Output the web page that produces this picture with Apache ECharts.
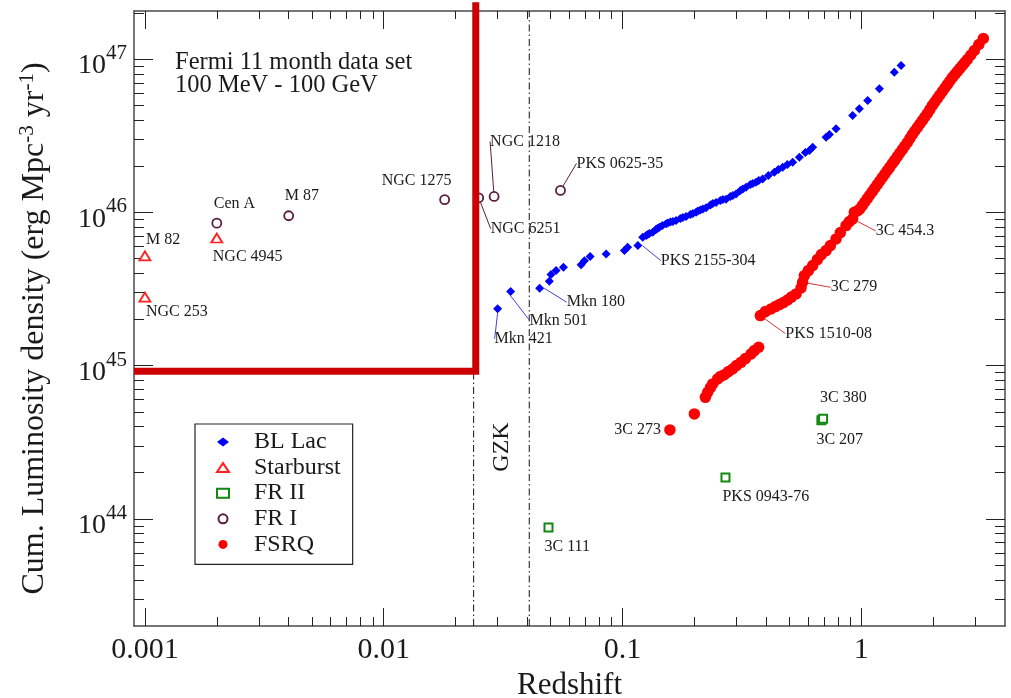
<!DOCTYPE html>
<html>
<head>
<meta charset="utf-8">
<script src="https://cdn.jsdelivr.net/npm/echarts@6/dist/echarts.min.js"></script>
<style>
  html, body { margin: 0; padding: 0; background: #fff; }
  #chart { width: 1011px; height: 698px; }
</style>
</head>
<body>
<div id="chart"></div>
<script>
// ---- Axis ranges and tick values ----
const xMin = 0.0009, xMax = 4;
const yMin = 2e43, yMax = 2.06e47;
const xMajorTicks = [0.001, 0.01, 0.1, 1];
const xMinorTicks = [0.002, 0.003, 0.004, 0.005, 0.006, 0.007, 0.008, 0.009,
  0.02, 0.03, 0.04, 0.05, 0.06, 0.07, 0.08, 0.09,
  0.2, 0.3, 0.4, 0.5, 0.6, 0.7, 0.8, 0.9, 2, 3];
const xTickLabels = ['0.001', '0.01', '0.1', '1'];
const yMajorTicks = [1e44, 1e45, 1e46, 1e47];
const yMinorTicks = [3e43, 4e43, 5e43, 6e43, 7e43, 8e43, 9e43,
  2e44, 3e44, 4e44, 5e44, 6e44, 7e44, 8e44, 9e44,
  2e45, 3e45, 4e45, 5e45, 6e45, 7e45, 8e45, 9e45,
  2e46, 3e46, 4e46, 5e46, 6e46, 7e46, 8e46, 9e46, 2e47];

// ---- BL Lac (cumulative, ordered by redshift) ----
const blLacZ = [0.030, 0.034, 0.045, 0.0494, 0.0502, 0.0527, 0.0566, 0.0671, 0.0693, 0.0732,
  0.0854, 0.1019, 0.1051, 0.116, 0.1215, 0.1256, 0.1275, 0.1296, 0.1339, 0.1380,
  0.1400, 0.1428, 0.1469, 0.1523, 0.1549, 0.1587, 0.1626, 0.1677, 0.1748, 0.1790,
  0.1846, 0.1925, 0.1971, 0.2033, 0.2069, 0.2120, 0.2171, 0.2239, 0.2335, 0.2390,
  0.2466, 0.2570, 0.2633, 0.2716, 0.2830, 0.2900, 0.2991, 0.3117, 0.3193, 0.3294,
  0.3433, 0.3517, 0.3627, 0.3725, 0.3864, 0.4083, 0.4325, 0.4496, 0.4688, 0.4904,
  0.5162, 0.5508, 0.5833, 0.6065, 0.6261, 0.7124, 0.7353, 0.7845, 0.9204, 0.9817,
  1.064, 1.191, 1.376, 1.468];
const blLacLum = [2.35e45, 3.05e45, 3.20e45, 3.55e45, 3.93e45, 4.17e45, 4.38e45, 4.56e45, 4.84e45, 5.16e45,
  5.35e45, 5.64e45, 5.92e45, 6.07e45, 6.87e45, 7.06e45, 7.16e45, 7.27e45, 7.42e45, 7.72e45,
  7.84e45, 8.00e45, 8.20e45, 8.42e45, 8.51e45, 8.64e45, 8.71e45, 8.84e45, 9.11e45, 9.25e45,
  9.39e45, 9.67e45, 9.82e45, 1.00e46, 1.020e46, 1.035e46, 1.051e46, 1.07e46, 1.116e46, 1.141e46,
  1.16e46, 1.194e46, 1.212e46, 1.22e46, 1.268e46, 1.287e46, 1.32e46, 1.388e46, 1.420e46, 1.46e46,
  1.519e46, 1.542e46, 1.57e46, 1.613e46, 1.65e46, 1.739e46, 1.83e46, 1.903e46, 1.97e46, 2.051e46,
  2.12e46, 2.29e46, 2.457e46, 2.53e46, 2.66e46, 3.09e46, 3.219e46, 3.51e46, 4.28e46, 4.74e46,
  5.37e46, 6.40e46, 8.22e46, 9.08e46];
const blLacNames = { 0: 'Mkn 421', 1: 'Mkn 501', 2: 'Mkn 180', 13: 'PKS 2155-304' };

// ---- FSRQ (cumulative, ordered by redshift) ----
const fsrqZ = [0.158, 0.200, 0.2225, 0.2275, 0.2335, 0.2387, 0.2504, 0.2570, 0.2672, 0.2777,
  0.2893, 0.2999, 0.3139, 0.3272, 0.3456, 0.3567, 0.3718, 0.3780, 0.3966, 0.4191,
  0.4369, 0.4540, 0.4719, 0.4919, 0.5097, 0.5333, 0.5596, 0.5683, 0.5777, 0.6004,
  0.6261, 0.6551, 0.6808, 0.7124, 0.7425, 0.7845, 0.8177, 0.8637, 0.8919, 0.9204,
  0.9356, 0.9632, 0.9865, 1.0107, 1.0354, 1.0605, 1.0864, 1.1129, 1.1403, 1.1676,
  1.1965, 1.2253, 1.2555, 1.2858, 1.3176, 1.3494, 1.3826, 1.4165, 1.4506, 1.4864,
  1.5225, 1.5596, 1.5975, 1.6368, 1.6768, 1.7177, 1.7594, 1.8027, 1.8462, 1.8915,
  1.9377, 1.9851, 2.0334, 2.0834, 2.1337, 2.1862, 2.2396, 2.2943, 2.3499, 2.4075,
  2.4660, 2.5262, 2.5878, 2.6509, 2.7148, 2.7818, 2.8774, 2.9757, 3.1083, 3.2456];
const fsrqLum = [3.805e44, 4.839e44, 6.21e44, 6.70e44, 7.18e44, 7.60e44, 8.19e44, 8.48e44, 8.73e44, 9.14e44,
  9.51e44, 1.00e45, 1.05e45, 1.111e45, 1.192e45, 1.253e45, 1.317e45, 2.120e45, 2.251e45, 2.345e45,
  2.427e45, 2.502e45, 2.578e45, 2.685e45, 2.800e45, 2.938e45, 3.216e45, 3.498e45, 3.869e45, 4.171e45,
  4.495e45, 4.920e45, 5.303e45, 5.633e45, 6.072e45, 6.714e45, 7.382e45, 8.201e45, 8.708e45, 9.07e45,
  1.0016e46, 1.02e46, 1.051e46, 1.108e46, 1.168e46, 1.231e46, 1.297e46, 1.367e46, 1.441e46, 1.519e46,
  1.601e46, 1.688e46, 1.778e46, 1.874e46, 1.975e46, 2.082e46, 2.194e46, 2.313e46, 2.438e46, 2.570e46,
  2.708e46, 2.855e46, 3.032e46, 3.219e46, 3.394e46, 3.577e46, 3.771e46, 3.974e46, 4.190e46, 4.415e46,
  4.688e46, 4.978e46, 5.248e46, 5.531e46, 5.831e46, 6.144e46, 6.478e46, 6.827e46, 7.194e46, 7.585e46,
  7.933e46, 8.302e46, 8.683e46, 9.084e46, 9.502e46, 9.94e46, 1.0636e47, 1.138e47, 1.2455e47, 1.363e47];
const fsrqNames = { 0: '3C 273', 17: 'PKS 1510-08', 27: '3C 279', 39: '3C 454.3' };

// ---- Starburst galaxies ----
const starburstNames = ['M 82', 'NGC 253', 'NGC 4945'];
const starburstZ = [0.001, 0.001, 0.002];
const starburstLum = [5.2e45, 2.8e45, 6.8e45];

// ---- FR I radio galaxies ----
const fr1Names = ['Cen A', 'M 87', 'NGC 1275', 'NGC 6251', 'NGC 1218', 'PKS 0625-35'];
const fr1Z = [0.002, 0.004, 0.018, 0.025, 0.029, 0.055];
const fr1Lum = [8.5e45, 9.5e45, 1.21e46, 1.245e46, 1.27e46, 1.39e46];

// ---- FR II radio galaxies ----
const fr2Names = ['3C 111', 'PKS 0943-76', '3C 207', '3C 380'];
const fr2Z = [0.049, 0.27, 0.681, 0.692];
const fr2Lum = [8.8e43, 1.86e44, 4.4e44, 4.5e44];

// ---- Threshold box and GZK horizon ----
const cutZ = [0.0009, 0.0243, 0.0243];
const cutLum = [9.2e44, 9.2e44, 2.35e47];
const gzkZ = [0.0238, 0.0407];

// ---- Styling ----
const SERIF = '"Liberation Serif", "DejaVu Serif", serif';
const TXT = '#1a1a1a';
const colBL = '#0000ff', colSB = '#ff2020', colFR2 = '#118811', colFR1 = '#5a1e3c', colFSRQ = '#ff0000';

// where each name label sits relative to its point (pixels), and whether it gets a leader line
const labelPlacement = {
  'M 82': { dx: 1, dy: -16 }, 'NGC 253': { dx: 1, dy: 15 }, 'NGC 4945': { dx: -4, dy: 19 },
  'Cen A': { dx: -3, dy: -19 }, 'M 87': { dx: -4, dy: -20 }, 'NGC 1275': { dx: -63, dy: -19 },
  'NGC 1218': { dx: -4, dy: -55, lead: true }, 'NGC 6251': { dx: 12, dy: 31, lead: true },
  'PKS 0625-35': { dx: 16, dy: -27, lead: true },
  'Mkn 421': { dx: -3, dy: 30, lead: true }, 'Mkn 501': { dx: 19, dy: 29, lead: true },
  'Mkn 180': { dx: 27, dy: 14, lead: true }, 'PKS 2155-304': { dx: 23, dy: 15, lead: true },
  '3C 454.3': { dx: 23, dy: 12, lead: true }, '3C 279': { dx: 28, dy: 5, lead: true },
  'PKS 1510-08': { dx: 25, dy: 18, lead: true }, '3C 273': { dx: -9, dy: 0, align: 'right' },
  '3C 380': { dx: -3, dy: -21 }, '3C 207': { dx: -5, dy: 20 },
  'PKS 0943-76': { dx: -3, dy: 19 }, '3C 111': { dx: -4, dy: 19 }
};

function buildData(zs, lums, names, leadColor) {
  return zs.map((z, i) => {
    const item = { value: [z, lums[i]] };
    const nm = names[i];
    if (nm) {
      item.name = nm;
      item.label = { show: true, formatter: nm };
      if (labelPlacement[nm] && labelPlacement[nm].lead) {
        item.labelLine = { show: true, lineStyle: { color: leadColor, width: 1 } };
      }
    }
    return item;
  });
}

function placeLabel(p) {
  const o = labelPlacement[p.text];
  if (!o) return {};
  const cx = p.rect.x + p.rect.width / 2, cy = p.rect.y + p.rect.height / 2;
  return { x: cx + o.dx, y: cy + o.dy, align: o.align || 'left', verticalAlign: 'middle' };
}

const labelStyle = { fontFamily: SERIF, fontSize: 16, color: TXT };

function xAxisDef(pos, ticks, len, withLabels, withLine) {
  return {
    type: 'log', logBase: 10, position: pos, min: xMin, max: xMax,
    axisLine: { show: withLine, lineStyle: { color: '#4a4a4a', width: 1.5 } },
    axisTick: { show: true, inside: true, length: len, customValues: ticks, lineStyle: { color: '#222', width: 1 } },
    axisLabel: withLabels ? {
      show: true, customValues: ticks, margin: 9,
      formatter: v => xTickLabels[Math.round(Math.log10(v)) + 3],
      fontFamily: SERIF, fontSize: 30, color: TXT
    } : { show: false },
    splitLine: { show: false }, minorTick: { show: false }
  };
}

function yAxisDef(pos, ticks, len, withLabels, withLine) {
  return {
    type: 'log', logBase: 10, position: pos, min: yMin, max: yMax,
    axisLine: { show: withLine, lineStyle: { color: '#4a4a4a', width: 1.5 } },
    axisTick: { show: true, inside: true, length: len, customValues: ticks, lineStyle: { color: '#222', width: 1 } },
    axisLabel: withLabels ? {
      show: true, customValues: ticks, margin: 7, padding: [14, 0, 0, 0],
      formatter: v => '{b|10}{s|' + Math.round(Math.log10(v)) + '}',
      rich: {
        b: { fontFamily: SERIF, fontSize: 28, color: TXT, lineHeight: 28, verticalAlign: 'bottom' },
        s: { fontFamily: SERIF, fontSize: 21, color: TXT, lineHeight: 21, verticalAlign: 'bottom', padding: [0, 0, 16, 0] }
      }
    } : { show: false },
    splitLine: { show: false }, minorTick: { show: false }
  };
}

const xAxes = [
  xAxisDef('bottom', xMajorTicks, 18, true, true),
  xAxisDef('bottom', xMinorTicks, 9, false, false),
  xAxisDef('top', xMajorTicks, 18, false, true),
  xAxisDef('top', xMinorTicks, 8, false, false)
];
Object.assign(xAxes[0], {
  name: 'Redshift', nameLocation: 'middle', nameGap: 42,
  nameTextStyle: { fontFamily: SERIF, fontSize: 31, color: TXT }
});

const yAxes = [
  yAxisDef('left', yMajorTicks, 19, true, true),
  yAxisDef('left', yMinorTicks, 10, false, false),
  yAxisDef('right', yMajorTicks, 19, false, true),
  yAxisDef('right', yMinorTicks, 10, false, false)
];
Object.assign(yAxes[0], {
  name: 'Cum. Luminosity density (erg Mpc{sup|-3} yr{sup|-1})',
  nameLocation: 'middle', nameRotate: 90, nameGap: 82,
  nameTextStyle: {
    fontFamily: SERIF, fontSize: 32, color: TXT, padding: [0, 20, 0, 0],
    rich: { sup: { fontFamily: SERIF, fontSize: 21, color: TXT, verticalAlign: 'bottom', padding: [0, 0, 14, 0] } }
  }
});

// vertical GZK horizon markers span the full plotted luminosity range
const gzkSeries = gzkZ.map(z => ({
  name: 'GZK', type: 'line', symbol: 'none', silent: true, z: 2,
  lineStyle: { color: '#111', width: 1, type: [7, 3, 1.5, 3] },
  data: [[z, yMin], [z, yMax]]
}));

const chart = echarts.init(document.getElementById('chart'), null, { renderer: 'canvas' });
chart.setOption({
  animation: false,
  backgroundColor: '#ffffff',
  grid: { left: 134, right: 6, top: 11, bottom: 72, containLabel: false, outerBoundsMode: 'none' },
  xAxis: xAxes,
  yAxis: yAxes,
  legend: {
    data: ['BL Lac', 'Starburst', 'FR II', 'FR I', 'FSRQ'],
    orient: 'vertical', left: 195, top: 424,
    padding: [6, 12, 8, 21], itemWidth: 12, itemHeight: 9, itemGap: 1.6,
    backgroundColor: '#fff', borderColor: '#222', borderWidth: 1.2, borderRadius: 0,
    textStyle: { fontFamily: SERIF, fontSize: 24, lineHeight: 24, color: TXT, padding: [0, 0, 0, 20] },
    selectedMode: false
  },
  graphic: [
    {
      type: 'text', left: 175, top: 50, z: 100,
      style: { text: 'Fermi 11 month data set\n100 MeV - 100 GeV', font: '24.5px ' + SERIF, lineHeight: 23, fill: TXT }
    },
    {
      type: 'text', x: 502, y: 447, rotation: Math.PI / 2, z: 100,
      style: { text: 'GZK', font: '24px ' + SERIF, fill: TXT, align: 'center', verticalAlign: 'middle' }
    }
  ],
  series: [
    {
      name: 'BL Lac', type: 'scatter', symbol: 'diamond', symbolSize: 9,
      itemStyle: { color: colBL, opacity: 1 },
      label: { show: false, ...labelStyle }, labelLayout: placeLabel,
      data: buildData(blLacZ, blLacLum, blLacNames, '#4444cc'), z: 3
    },
    {
      name: 'Starburst', type: 'scatter', symbol: 'triangle', symbolSize: [11, 9],
      itemStyle: { color: '#fff', borderColor: colSB, borderWidth: 1.8, opacity: 1 },
      label: { show: false, ...labelStyle }, labelLayout: placeLabel,
      data: buildData(starburstZ, starburstLum, starburstNames, colSB), z: 3
    },
    {
      name: 'FR II', type: 'scatter', symbol: 'rect', symbolSize: 8,
      itemStyle: { color: '#fff', borderColor: colFR2, borderWidth: 2, opacity: 1 },
      label: { show: false, ...labelStyle }, labelLayout: placeLabel,
      data: buildData(fr2Z, fr2Lum, fr2Names, colFR2), z: 3
    },
    {
      name: 'FR I', type: 'scatter', symbol: 'circle', symbolSize: 9,
      itemStyle: { color: '#fff', borderColor: colFR1, borderWidth: 1.8, opacity: 1 },
      label: { show: false, ...labelStyle }, labelLayout: placeLabel,
      data: buildData(fr1Z, fr1Lum, fr1Names, colFR1), z: 3
    },
    {
      name: 'FSRQ', type: 'scatter', symbol: 'circle', symbolSize: 11.5,
      itemStyle: { color: colFSRQ, opacity: 1 },
      label: { show: false, ...labelStyle }, labelLayout: placeLabel,
      data: buildData(fsrqZ, fsrqLum, fsrqNames, '#dd3333'), z: 3
    },
    {
      name: 'cut', type: 'line', symbol: 'none', clip: false, z: 5, silent: true,
      lineStyle: { color: '#cc0000', width: 7, join: 'miter', cap: 'butt' },
      data: cutZ.map((z, i) => [z, cutLum[i]])
    },
    ...gzkSeries
  ]
});
</script>
</body>
</html>
